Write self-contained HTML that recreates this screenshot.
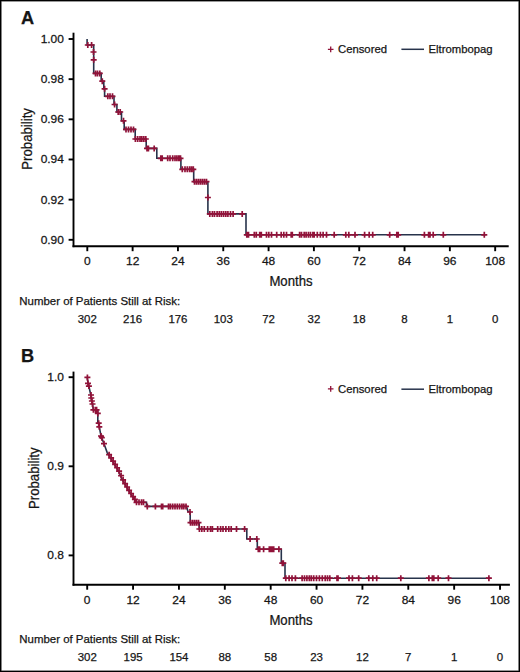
<!DOCTYPE html>
<html><head><meta charset="utf-8"><style>
html,body{margin:0;padding:0;background:#fff;}
body{width:520px;height:672px;overflow:hidden;}
.frame{position:absolute;left:0;top:0;width:520px;height:672px;box-sizing:border-box;border:1px solid #000;box-shadow:inset 0 0 0 0.6px #333;}
svg{position:absolute;left:0;top:0;}
text{font-family:"Liberation Sans", sans-serif;fill:#151515;stroke:#151515;stroke-width:0.25px;}
</style></head><body>
<svg width="520" height="672" viewBox="0 0 520 672">
<text transform="translate(21.00,23.50)" font-size="18.2" text-anchor="start" font-weight="bold" >A</text>
<line x1="73.50" y1="32.70" x2="73.50" y2="247.15" stroke="#000" stroke-width="1.9" stroke-linecap="butt"/>
<line x1="72.55" y1="246.20" x2="508.70" y2="246.20" stroke="#000" stroke-width="1.9" stroke-linecap="butt"/>
<line x1="68.60" y1="39.00" x2="73.50" y2="39.00" stroke="#000" stroke-width="1.9" stroke-linecap="butt"/>
<text transform="translate(63.90,43.00) scale(1.05,1)" font-size="11.4" text-anchor="end" font-weight="normal" >1.00</text>
<line x1="68.60" y1="79.16" x2="73.50" y2="79.16" stroke="#000" stroke-width="1.9" stroke-linecap="butt"/>
<text transform="translate(63.90,83.16) scale(1.05,1)" font-size="11.4" text-anchor="end" font-weight="normal" >0.98</text>
<line x1="68.60" y1="119.32" x2="73.50" y2="119.32" stroke="#000" stroke-width="1.9" stroke-linecap="butt"/>
<text transform="translate(63.90,123.32) scale(1.05,1)" font-size="11.4" text-anchor="end" font-weight="normal" >0.96</text>
<line x1="68.60" y1="159.48" x2="73.50" y2="159.48" stroke="#000" stroke-width="1.9" stroke-linecap="butt"/>
<text transform="translate(63.90,163.48) scale(1.05,1)" font-size="11.4" text-anchor="end" font-weight="normal" >0.94</text>
<line x1="68.60" y1="199.64" x2="73.50" y2="199.64" stroke="#000" stroke-width="1.9" stroke-linecap="butt"/>
<text transform="translate(63.90,203.64) scale(1.05,1)" font-size="11.4" text-anchor="end" font-weight="normal" >0.92</text>
<line x1="68.60" y1="239.80" x2="73.50" y2="239.80" stroke="#000" stroke-width="1.9" stroke-linecap="butt"/>
<text transform="translate(63.90,243.80) scale(1.05,1)" font-size="11.4" text-anchor="end" font-weight="normal" >0.90</text>
<line x1="87.30" y1="246.20" x2="87.30" y2="251.20" stroke="#000" stroke-width="1.9" stroke-linecap="butt"/>
<text transform="translate(87.30,265.40) scale(1.05,1)" font-size="11.4" text-anchor="middle" font-weight="normal" >0</text>
<line x1="132.62" y1="246.20" x2="132.62" y2="251.20" stroke="#000" stroke-width="1.9" stroke-linecap="butt"/>
<text transform="translate(132.62,265.40) scale(1.05,1)" font-size="11.4" text-anchor="middle" font-weight="normal" >12</text>
<line x1="177.94" y1="246.20" x2="177.94" y2="251.20" stroke="#000" stroke-width="1.9" stroke-linecap="butt"/>
<text transform="translate(177.94,265.40) scale(1.05,1)" font-size="11.4" text-anchor="middle" font-weight="normal" >24</text>
<line x1="223.26" y1="246.20" x2="223.26" y2="251.20" stroke="#000" stroke-width="1.9" stroke-linecap="butt"/>
<text transform="translate(223.26,265.40) scale(1.05,1)" font-size="11.4" text-anchor="middle" font-weight="normal" >36</text>
<line x1="268.58" y1="246.20" x2="268.58" y2="251.20" stroke="#000" stroke-width="1.9" stroke-linecap="butt"/>
<text transform="translate(268.58,265.40) scale(1.05,1)" font-size="11.4" text-anchor="middle" font-weight="normal" >48</text>
<line x1="313.90" y1="246.20" x2="313.90" y2="251.20" stroke="#000" stroke-width="1.9" stroke-linecap="butt"/>
<text transform="translate(313.90,265.40) scale(1.05,1)" font-size="11.4" text-anchor="middle" font-weight="normal" >60</text>
<line x1="359.22" y1="246.20" x2="359.22" y2="251.20" stroke="#000" stroke-width="1.9" stroke-linecap="butt"/>
<text transform="translate(359.22,265.40) scale(1.05,1)" font-size="11.4" text-anchor="middle" font-weight="normal" >72</text>
<line x1="404.54" y1="246.20" x2="404.54" y2="251.20" stroke="#000" stroke-width="1.9" stroke-linecap="butt"/>
<text transform="translate(404.54,265.40) scale(1.05,1)" font-size="11.4" text-anchor="middle" font-weight="normal" >84</text>
<line x1="449.86" y1="246.20" x2="449.86" y2="251.20" stroke="#000" stroke-width="1.9" stroke-linecap="butt"/>
<text transform="translate(449.86,265.40) scale(1.05,1)" font-size="11.4" text-anchor="middle" font-weight="normal" >96</text>
<line x1="495.18" y1="246.20" x2="495.18" y2="251.20" stroke="#000" stroke-width="1.9" stroke-linecap="butt"/>
<text transform="translate(495.18,265.40) scale(1.05,1)" font-size="11.4" text-anchor="middle" font-weight="normal" >108</text>
<text transform="translate(291.00,286.00) scale(0.91,1)" font-size="14.5" text-anchor="middle" font-weight="normal" >Months</text>
<text transform="translate(31.70,138.90) rotate(-90) scale(0.91,1)" font-size="14.5" text-anchor="middle" font-weight="normal" >Probability</text>
<path d="M327.90,49.30h5.6M330.70,46.40v5.8" stroke="#911239" stroke-width="1.3" fill="none"/>
<text transform="translate(338.00,53.20)" font-size="11.3" text-anchor="start" font-weight="normal" >Censored</text>
<line x1="401.40" y1="49.30" x2="424.00" y2="49.30" stroke="#27334b" stroke-width="1.5" stroke-linecap="butt"/>
<text transform="translate(428.50,53.20)" font-size="11.3" text-anchor="start" font-weight="normal" >Eltrombopag</text>
<text transform="translate(19.30,304.80)" font-size="11.45" text-anchor="start" font-weight="normal" >Number of Patients Still at Risk:</text>
<text transform="translate(87.30,322.50)" font-size="11.45" text-anchor="middle" font-weight="normal" >302</text>
<text transform="translate(132.62,322.50)" font-size="11.45" text-anchor="middle" font-weight="normal" >216</text>
<text transform="translate(177.94,322.50)" font-size="11.45" text-anchor="middle" font-weight="normal" >176</text>
<text transform="translate(223.26,322.50)" font-size="11.45" text-anchor="middle" font-weight="normal" >103</text>
<text transform="translate(268.58,322.50)" font-size="11.45" text-anchor="middle" font-weight="normal" >72</text>
<text transform="translate(313.90,322.50)" font-size="11.45" text-anchor="middle" font-weight="normal" >32</text>
<text transform="translate(359.22,322.50)" font-size="11.45" text-anchor="middle" font-weight="normal" >18</text>
<text transform="translate(404.54,322.50)" font-size="11.45" text-anchor="middle" font-weight="normal" >8</text>
<text transform="translate(449.86,322.50)" font-size="11.45" text-anchor="middle" font-weight="normal" >1</text>
<text transform="translate(495.18,322.50)" font-size="11.45" text-anchor="middle" font-weight="normal" >0</text>
<path d="M87.10,38.90H87.10V45.00H93.70V73.40H101.20V81.20H103.80V88.80H104.60V96.30H114.00V104.50H116.90V112.00H121.50V120.80H124.20V129.40H135.20V139.00H146.20V148.40H156.80V158.30H180.90V169.30H193.70V181.70H207.90V213.90H246.00V234.80H485.50" stroke="#27334b" stroke-width="1.6" fill="none" stroke-linejoin="miter"/>
<path d="M84.80,45.00h6.00M87.80,42.00v6.00M88.60,45.00h6.00M91.60,42.00v6.00M90.50,52.00h6.00M93.50,49.00v6.00M90.70,59.80h6.00M93.70,56.80v6.00M92.50,73.40h6.00M95.50,70.40v6.00M94.50,73.40h6.00M97.50,70.40v6.00M96.80,73.40h6.00M99.80,70.40v6.00M99.30,81.20h6.00M102.30,78.20v6.00M101.60,88.80h6.00M104.60,85.80v6.00M104.80,96.30h6.00M107.80,93.30v6.00M107.00,96.30h6.00M110.00,93.30v6.00M109.50,96.30h6.00M112.50,93.30v6.00M111.60,104.50h6.00M114.60,101.50v6.00M115.20,112.00h6.00M118.20,109.00v6.00M117.20,112.00h6.00M120.20,109.00v6.00M120.50,120.80h6.00M123.50,117.80v6.00M123.00,129.40h6.00M126.00,126.40v6.00M125.50,129.40h6.00M128.50,126.40v6.00M128.00,129.40h6.00M131.00,126.40v6.00M130.50,129.40h6.00M133.50,126.40v6.00M132.40,139.00h6.00M135.40,136.00v6.00M134.70,139.00h6.00M137.70,136.00v6.00M137.00,139.00h6.00M140.00,136.00v6.00M138.80,139.00h6.00M141.80,136.00v6.00M140.80,139.00h6.00M143.80,136.00v6.00M142.80,139.00h6.00M145.80,136.00v6.00M144.00,148.40h6.00M147.00,145.40v6.00M145.40,148.40h6.00M148.40,145.40v6.00M151.20,148.40h6.00M154.20,145.40v6.00M157.80,158.30h6.00M160.80,155.30v6.00M159.20,158.30h6.00M162.20,155.30v6.00M164.70,158.30h6.00M167.70,155.30v6.00M167.00,158.30h6.00M170.00,155.30v6.00M169.70,158.30h6.00M172.70,155.30v6.00M172.00,158.30h6.00M175.00,155.30v6.00M173.90,158.30h6.00M176.90,155.30v6.00M175.80,158.30h6.00M178.80,155.30v6.00M177.50,158.30h6.00M180.50,155.30v6.00M179.30,169.30h6.00M182.30,166.30v6.00M182.00,169.30h6.00M185.00,166.30v6.00M184.30,169.30h6.00M187.30,166.30v6.00M186.60,169.30h6.00M189.60,166.30v6.00M188.50,169.30h6.00M191.50,166.30v6.00M190.30,169.30h6.00M193.30,166.30v6.00M191.50,181.70h6.00M194.50,178.70v6.00M193.50,181.70h6.00M196.50,178.70v6.00M195.50,181.70h6.00M198.50,178.70v6.00M197.50,181.70h6.00M200.50,178.70v6.00M199.50,181.70h6.00M202.50,178.70v6.00M201.50,181.70h6.00M204.50,178.70v6.00M203.50,181.70h6.00M206.50,178.70v6.00M204.90,197.50h6.00M207.90,194.50v6.00M206.80,213.90h6.00M209.80,210.90v6.00M209.40,213.90h6.00M212.40,210.90v6.00M211.50,213.90h6.00M214.50,210.90v6.00M214.10,213.90h6.00M217.10,210.90v6.00M216.30,213.90h6.00M219.30,210.90v6.00M218.40,213.90h6.00M221.40,210.90v6.00M220.60,213.90h6.00M223.60,210.90v6.00M222.80,213.90h6.00M225.80,210.90v6.00M224.90,213.90h6.00M227.90,210.90v6.00M227.50,213.90h6.00M230.50,210.90v6.00M230.10,213.90h6.00M233.10,210.90v6.00M239.20,213.90h6.00M242.20,210.90v6.00M243.80,234.80h6.00M246.80,231.80v6.00M245.50,234.80h6.00M248.50,231.80v6.00M251.30,234.80h6.00M254.30,231.80v6.00M253.30,234.80h6.00M256.30,231.80v6.00M256.70,234.80h6.00M259.70,231.80v6.00M258.30,234.80h6.00M261.30,231.80v6.00M263.50,234.80h6.00M266.50,231.80v6.00M265.80,234.80h6.00M268.80,231.80v6.00M268.50,234.80h6.00M271.50,231.80v6.00M273.70,234.80h6.00M276.70,231.80v6.00M278.20,234.80h6.00M281.20,231.80v6.00M280.80,234.80h6.00M283.80,231.80v6.00M283.50,234.80h6.00M286.50,231.80v6.00M288.20,234.80h6.00M291.20,231.80v6.00M289.30,234.80h6.00M292.30,231.80v6.00M296.60,234.80h6.00M299.60,231.80v6.00M298.50,234.80h6.00M301.50,231.80v6.00M301.20,234.80h6.00M304.20,231.80v6.00M303.10,234.80h6.00M306.10,231.80v6.00M305.40,234.80h6.00M308.40,231.80v6.00M307.50,234.80h6.00M310.50,231.80v6.00M309.90,234.80h6.00M312.90,231.80v6.00M311.20,234.80h6.00M314.20,231.80v6.00M314.30,234.80h6.00M317.30,231.80v6.00M317.40,234.80h6.00M320.40,231.80v6.00M320.10,234.80h6.00M323.10,231.80v6.00M323.50,234.80h6.00M326.50,231.80v6.00M331.20,234.80h6.00M334.20,231.80v6.00M342.80,234.80h6.00M345.80,231.80v6.00M345.80,234.80h6.00M348.80,231.80v6.00M352.00,234.80h6.00M355.00,231.80v6.00M361.60,234.80h6.00M364.60,231.80v6.00M366.20,234.80h6.00M369.20,231.80v6.00M369.70,234.80h6.00M372.70,231.80v6.00M386.70,234.80h6.00M389.70,231.80v6.00M393.80,234.80h6.00M396.80,231.80v6.00M395.20,234.80h6.00M398.20,231.80v6.00M421.40,234.80h6.00M424.40,231.80v6.00M425.60,234.80h6.00M428.60,231.80v6.00M427.00,234.80h6.00M430.00,231.80v6.00M430.20,234.80h6.00M433.20,231.80v6.00M440.30,234.80h6.00M443.30,231.80v6.00M481.30,234.80h6.00M484.30,231.80v6.00" stroke="#911239" stroke-width="1.7" fill="none"/>
<text transform="translate(21.00,362.00)" font-size="18.2" text-anchor="start" font-weight="bold" >B</text>
<line x1="73.50" y1="371.60" x2="73.50" y2="585.65" stroke="#000" stroke-width="1.9" stroke-linecap="butt"/>
<line x1="72.55" y1="584.70" x2="509.90" y2="584.70" stroke="#000" stroke-width="1.9" stroke-linecap="butt"/>
<line x1="68.60" y1="377.20" x2="73.50" y2="377.20" stroke="#000" stroke-width="1.9" stroke-linecap="butt"/>
<text transform="translate(63.90,381.20) scale(1.05,1)" font-size="11.4" text-anchor="end" font-weight="normal" >1.0</text>
<line x1="68.60" y1="466.30" x2="73.50" y2="466.30" stroke="#000" stroke-width="1.9" stroke-linecap="butt"/>
<text transform="translate(63.90,470.30) scale(1.05,1)" font-size="11.4" text-anchor="end" font-weight="normal" >0.9</text>
<line x1="68.60" y1="555.40" x2="73.50" y2="555.40" stroke="#000" stroke-width="1.9" stroke-linecap="butt"/>
<text transform="translate(63.90,559.40) scale(1.05,1)" font-size="11.4" text-anchor="end" font-weight="normal" >0.8</text>
<line x1="87.20" y1="584.70" x2="87.20" y2="589.70" stroke="#000" stroke-width="1.9" stroke-linecap="butt"/>
<text transform="translate(87.20,603.90) scale(1.05,1)" font-size="11.4" text-anchor="middle" font-weight="normal" >0</text>
<line x1="133.07" y1="584.70" x2="133.07" y2="589.70" stroke="#000" stroke-width="1.9" stroke-linecap="butt"/>
<text transform="translate(133.07,603.90) scale(1.05,1)" font-size="11.4" text-anchor="middle" font-weight="normal" >12</text>
<line x1="178.94" y1="584.70" x2="178.94" y2="589.70" stroke="#000" stroke-width="1.9" stroke-linecap="butt"/>
<text transform="translate(178.94,603.90) scale(1.05,1)" font-size="11.4" text-anchor="middle" font-weight="normal" >24</text>
<line x1="224.81" y1="584.70" x2="224.81" y2="589.70" stroke="#000" stroke-width="1.9" stroke-linecap="butt"/>
<text transform="translate(224.81,603.90) scale(1.05,1)" font-size="11.4" text-anchor="middle" font-weight="normal" >36</text>
<line x1="270.68" y1="584.70" x2="270.68" y2="589.70" stroke="#000" stroke-width="1.9" stroke-linecap="butt"/>
<text transform="translate(270.68,603.90) scale(1.05,1)" font-size="11.4" text-anchor="middle" font-weight="normal" >48</text>
<line x1="316.55" y1="584.70" x2="316.55" y2="589.70" stroke="#000" stroke-width="1.9" stroke-linecap="butt"/>
<text transform="translate(316.55,603.90) scale(1.05,1)" font-size="11.4" text-anchor="middle" font-weight="normal" >60</text>
<line x1="362.42" y1="584.70" x2="362.42" y2="589.70" stroke="#000" stroke-width="1.9" stroke-linecap="butt"/>
<text transform="translate(362.42,603.90) scale(1.05,1)" font-size="11.4" text-anchor="middle" font-weight="normal" >72</text>
<line x1="408.29" y1="584.70" x2="408.29" y2="589.70" stroke="#000" stroke-width="1.9" stroke-linecap="butt"/>
<text transform="translate(408.29,603.90) scale(1.05,1)" font-size="11.4" text-anchor="middle" font-weight="normal" >84</text>
<line x1="454.16" y1="584.70" x2="454.16" y2="589.70" stroke="#000" stroke-width="1.9" stroke-linecap="butt"/>
<text transform="translate(454.16,603.90) scale(1.05,1)" font-size="11.4" text-anchor="middle" font-weight="normal" >96</text>
<line x1="500.03" y1="584.70" x2="500.03" y2="589.70" stroke="#000" stroke-width="1.9" stroke-linecap="butt"/>
<text transform="translate(500.03,603.90) scale(1.05,1)" font-size="11.4" text-anchor="middle" font-weight="normal" >108</text>
<text transform="translate(291.00,624.50) scale(0.91,1)" font-size="14.5" text-anchor="middle" font-weight="normal" >Months</text>
<text transform="translate(38.90,478.20) rotate(-90) scale(0.91,1)" font-size="14.5" text-anchor="middle" font-weight="normal" >Probability</text>
<path d="M327.90,388.80h5.6M330.70,385.90v5.8" stroke="#911239" stroke-width="1.3" fill="none"/>
<text transform="translate(338.00,392.70)" font-size="11.3" text-anchor="start" font-weight="normal" >Censored</text>
<line x1="401.40" y1="389.20" x2="424.00" y2="389.20" stroke="#27334b" stroke-width="1.5" stroke-linecap="butt"/>
<text transform="translate(428.50,392.70)" font-size="11.3" text-anchor="start" font-weight="normal" >Eltrombopag</text>
<text transform="translate(19.30,643.30)" font-size="11.45" text-anchor="start" font-weight="normal" >Number of Patients Still at Risk:</text>
<text transform="translate(87.20,661.00)" font-size="11.45" text-anchor="middle" font-weight="normal" >302</text>
<text transform="translate(133.07,661.00)" font-size="11.45" text-anchor="middle" font-weight="normal" >195</text>
<text transform="translate(178.94,661.00)" font-size="11.45" text-anchor="middle" font-weight="normal" >154</text>
<text transform="translate(224.81,661.00)" font-size="11.45" text-anchor="middle" font-weight="normal" >88</text>
<text transform="translate(270.68,661.00)" font-size="11.45" text-anchor="middle" font-weight="normal" >58</text>
<text transform="translate(316.55,661.00)" font-size="11.45" text-anchor="middle" font-weight="normal" >23</text>
<text transform="translate(362.42,661.00)" font-size="11.45" text-anchor="middle" font-weight="normal" >12</text>
<text transform="translate(408.29,661.00)" font-size="11.45" text-anchor="middle" font-weight="normal" >7</text>
<text transform="translate(454.16,661.00)" font-size="11.45" text-anchor="middle" font-weight="normal" >1</text>
<text transform="translate(500.03,661.00)" font-size="11.45" text-anchor="middle" font-weight="normal" >0</text>
<path d="M87.20,376.80L87.60,380.00L88.00,383.40L88.90,386.10L89.80,390.50L90.80,395.00L91.30,398.00L91.90,401.00L92.50,404.00L93.30,409.80L97.60,409.80L97.80,413.40L97.80,423.00L98.70,423.20L99.30,426.80L101.00,436.00L104.00,443.70L107.20,452.60L112.60,461.30L118.40,470.90L123.20,481.50L129.00,491.20L135.70,501.50L136.20,502.30L146.50,502.30L146.50,506.40L186.50,506.40L188.00,511.50L190.20,512.00L190.20,522.70L199.20,522.70L199.20,529.00L246.80,529.00L246.80,539.00L257.30,539.00L257.30,549.20L281.30,549.20L281.30,563.20L285.00,563.20L285.00,578.20L490.50,578.20" stroke="#27334b" stroke-width="1.6" fill="none" stroke-linejoin="miter"/>
<path d="M84.40,377.40h6.00M87.40,374.40v6.00M85.00,383.40h6.00M88.00,380.40v6.00M85.90,386.10h6.00M88.90,383.10v6.00M88.00,395.00h6.00M91.00,392.00v6.00M88.30,398.00h6.00M91.30,395.00v6.00M88.90,401.00h6.00M91.90,398.00v6.00M89.50,404.00h6.00M92.50,401.00v6.00M90.40,409.80h6.00M93.40,406.80v6.00M92.50,409.80h6.00M95.50,406.80v6.00M93.60,409.80h6.00M96.60,406.80v6.00M94.80,413.40h6.00M97.80,410.40v6.00M95.70,423.20h6.00M98.70,420.20v6.00M96.30,426.80h6.00M99.30,423.80v6.00M98.00,436.00h6.00M101.00,433.00v6.00M98.80,437.70h6.00M101.80,434.70v6.00M101.00,443.70h6.00M104.00,440.70v6.00M106.10,454.69h6.00M109.10,451.69v6.00M108.10,457.92h6.00M111.10,454.92v6.00M110.10,461.14h6.00M113.10,458.14v6.00M112.10,464.44h6.00M115.10,461.44v6.00M114.10,467.76h6.00M117.10,464.76v6.00M116.10,471.12h6.00M119.10,468.12v6.00M118.10,475.54h6.00M121.10,472.54v6.00M120.10,479.95h6.00M123.10,476.95v6.00M122.10,483.67h6.00M125.10,480.67v6.00M124.10,487.02h6.00M127.10,484.02v6.00M126.10,490.36h6.00M129.10,487.36v6.00M128.10,493.51h6.00M131.10,490.51v6.00M130.10,496.58h6.00M133.10,493.58v6.00M131.90,499.35h6.00M134.90,496.35v6.00M133.50,502.30h6.00M136.50,499.30v6.00M136.00,502.30h6.00M139.00,499.30v6.00M138.50,502.30h6.00M141.50,499.30v6.00M140.50,502.30h6.00M143.50,499.30v6.00M144.30,506.40h6.00M147.30,503.40v6.00M152.40,506.40h6.00M155.40,503.40v6.00M158.50,506.40h6.00M161.50,503.40v6.00M159.70,506.40h6.00M162.70,503.40v6.00M165.50,506.40h6.00M168.50,503.40v6.00M167.40,506.40h6.00M170.40,503.40v6.00M169.70,506.40h6.00M172.70,503.40v6.00M172.00,506.40h6.00M175.00,503.40v6.00M174.30,506.40h6.00M177.30,503.40v6.00M176.60,506.40h6.00M179.60,503.40v6.00M178.90,506.40h6.00M181.90,503.40v6.00M180.80,506.40h6.00M183.80,503.40v6.00M183.00,506.40h6.00M186.00,503.40v6.00M187.00,512.00h6.00M190.00,509.00v6.00M187.50,522.70h6.00M190.50,519.70v6.00M189.50,522.70h6.00M192.50,519.70v6.00M191.50,522.70h6.00M194.50,519.70v6.00M193.50,522.70h6.00M196.50,519.70v6.00M195.50,522.70h6.00M198.50,519.70v6.00M196.40,529.00h6.00M199.40,526.00v6.00M198.80,529.00h6.00M201.80,526.00v6.00M201.30,529.00h6.00M204.30,526.00v6.00M204.60,529.00h6.00M207.60,526.00v6.00M207.50,529.00h6.00M210.50,526.00v6.00M209.40,529.00h6.00M212.40,526.00v6.00M214.70,529.00h6.00M217.70,526.00v6.00M217.60,529.00h6.00M220.60,526.00v6.00M220.00,529.00h6.00M223.00,526.00v6.00M222.90,529.00h6.00M225.90,526.00v6.00M225.80,529.00h6.00M228.80,526.00v6.00M228.20,529.00h6.00M231.20,526.00v6.00M233.50,529.00h6.00M236.50,526.00v6.00M241.60,529.00h6.00M244.60,526.00v6.00M247.10,539.00h6.00M250.10,536.00v6.00M253.80,539.00h6.00M256.80,536.00v6.00M255.30,549.20h6.00M258.30,546.20v6.00M256.70,549.20h6.00M259.70,546.20v6.00M260.60,549.20h6.00M263.60,546.20v6.00M266.30,549.20h6.00M269.30,546.20v6.00M267.80,549.20h6.00M270.80,546.20v6.00M269.20,549.20h6.00M272.20,546.20v6.00M270.70,549.20h6.00M273.70,546.20v6.00M275.90,549.20h6.00M278.90,546.20v6.00M279.30,563.20h6.00M282.30,560.20v6.00M280.30,563.20h6.00M283.30,560.20v6.00M282.80,578.20h6.00M285.80,575.20v6.00M286.10,578.20h6.00M289.10,575.20v6.00M289.00,578.20h6.00M292.00,575.20v6.00M292.40,578.20h6.00M295.40,575.20v6.00M299.10,578.20h6.00M302.10,575.20v6.00M301.50,578.20h6.00M304.50,575.20v6.00M303.90,578.20h6.00M306.90,575.20v6.00M306.30,578.20h6.00M309.30,575.20v6.00M308.30,578.20h6.00M311.30,575.20v6.00M310.70,578.20h6.00M313.70,575.20v6.00M313.50,578.20h6.00M316.50,575.20v6.00M316.40,578.20h6.00M319.40,575.20v6.00M319.30,578.20h6.00M322.30,575.20v6.00M322.20,578.20h6.00M325.20,575.20v6.00M324.50,578.20h6.00M327.50,575.20v6.00M326.80,578.20h6.00M329.80,575.20v6.00M334.00,578.20h6.00M337.00,575.20v6.00M335.00,578.20h6.00M338.00,575.20v6.00M346.00,578.20h6.00M349.00,575.20v6.00M349.40,578.20h6.00M352.40,575.20v6.00M355.70,578.20h6.00M358.70,575.20v6.00M365.80,578.20h6.00M368.80,575.20v6.00M369.80,578.20h6.00M372.80,575.20v6.00M373.70,578.20h6.00M376.70,575.20v6.00M397.80,578.20h6.00M400.80,575.20v6.00M425.90,578.20h6.00M428.90,575.20v6.00M429.30,578.20h6.00M432.30,575.20v6.00M430.80,578.20h6.00M433.80,575.20v6.00M435.20,578.20h6.00M438.20,575.20v6.00M445.50,578.20h6.00M448.50,575.20v6.00M485.90,578.20h6.00M488.90,575.20v6.00" stroke="#911239" stroke-width="1.7" fill="none"/>
</svg>
<div class="frame"></div>
</body></html>
